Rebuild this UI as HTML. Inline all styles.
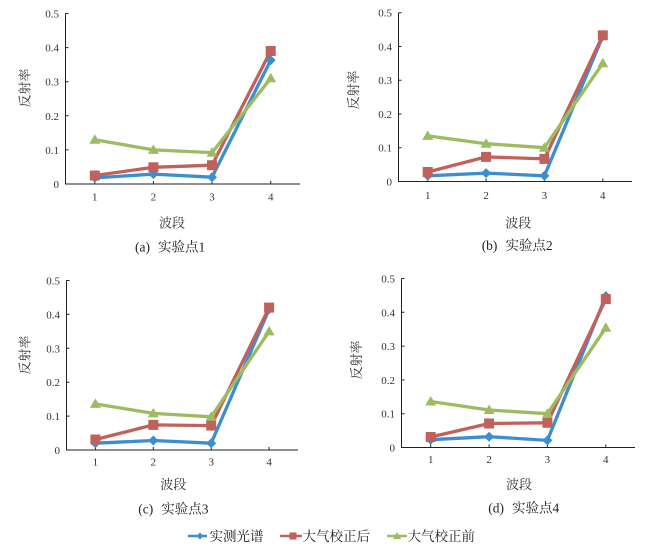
<!DOCTYPE html>
<html>
<head>
<meta charset="utf-8">
<style>
html,body{margin:0;padding:0;background:#fff;}
svg{display:block;}
.tk{font-family:"Liberation Serif","Noto Serif CJK SC",serif;font-size:11px;fill:#333;}
.lb{font-family:"Liberation Serif","Noto Serif CJK SC",serif;font-size:13px;fill:#333;}
.cap{font-family:"Liberation Serif","Noto Serif CJK SC",serif;font-size:13.5px;fill:#222;}
.ax{stroke:#222;stroke-width:1;fill:none;}
.bl{stroke:#3b8fd1;stroke-width:3.3;fill:none;stroke-linejoin:round;}
.rd{stroke:#c0615b;stroke-width:3.3;fill:none;stroke-linejoin:round;}
.gr{stroke:#9dbb61;stroke-width:3.3;fill:none;stroke-linejoin:round;}
.bm{fill:#3b8fd1;}
.rm{fill:#c0615b;}
.gm{fill:#9dbb61;}
</style>
</head>
<body>
<svg width="646" height="549" viewBox="0 0 646 549" xmlns="http://www.w3.org/2000/svg">
<defs>
<polygon id="dia" points="0,-5 5,0 0,5 -5,0"/>
<rect id="sq" x="-5" y="-5" width="10" height="10"/>
<polygon id="tri" points="0,-5.5 5.5,4 -5.5,4"/>
</defs>

<!-- Panel A -->
<g>
<path class="ax" d="M65.5,13.5 V184 H300"/>
<path class="ax" d="M65.5,13.5 h3 M65.5,47.6 h3 M65.5,81.7 h3 M65.5,115.8 h3 M65.5,149.9 h3 M94.8,184 v-3 M153.4,184 v-3 M212,184 v-3 M270.7,184 v-3"/>
<g class="tk" text-anchor="end">
<text x="59" y="17.5">0.5</text><text x="59" y="51.6">0.4</text><text x="59" y="85.7">0.3</text><text x="59" y="119.8">0.2</text><text x="59" y="153.9">0.1</text><text x="59" y="188">0</text>
</g>
<g class="tk" text-anchor="middle">
<text x="94.8" y="200.5">1</text><text x="153.4" y="200.5">2</text><text x="212" y="200.5">3</text><text x="270.7" y="200.5">4</text>
</g>
<text class="lb" text-anchor="middle" transform="translate(29.5,88) rotate(-90)">反射率</text>
<text class="lb" text-anchor="middle" x="172" y="227.7">波段</text>
<text class="cap" x="135" y="251.7">(a)<tspan dx="8">实验点1</tspan></text>
<polyline class="bl" points="94.8,177.9 153.4,174.1 212,177.2 270.7,60.2"/>
<polyline class="rd" points="94.8,175.5 153.4,167.3 212,165.2 270.7,51.0"/>
<polyline class="gr" points="94.8,139.7 153.4,149.9 212,152.6 270.7,78.3"/>
<g class="bm">
<use href="#dia" x="94.8" y="177.9"/><use href="#dia" x="153.4" y="174.1"/><use href="#dia" x="212" y="177.2"/><use href="#dia" x="270.7" y="60.2"/>
</g>
<g class="rm">
<use href="#sq" x="94.8" y="175.5"/><use href="#sq" x="153.4" y="167.3"/><use href="#sq" x="212" y="165.2"/><use href="#sq" x="270.7" y="51.0"/>
</g>
<g class="gm">
<use href="#tri" x="94.8" y="139.7"/><use href="#tri" x="153.4" y="149.9"/><use href="#tri" x="212" y="152.6"/><use href="#tri" x="270.7" y="78.3"/>
</g>
</g>

<!-- Panel B -->
<g>
<path class="ax" d="M398.5,12.7 V181.5 H632"/>
<path class="ax" d="M398.5,12.7 h3 M398.5,46.5 h3 M398.5,80.2 h3 M398.5,114 h3 M398.5,147.7 h3 M427.7,181.5 v-3 M486.1,181.5 v-3 M544.4,181.5 v-3 M602.8,181.5 v-3"/>
<g class="tk" text-anchor="end">
<text x="392" y="16.7">0.5</text><text x="392" y="50.5">0.4</text><text x="392" y="84.2">0.3</text><text x="392" y="118">0.2</text><text x="392" y="151.7">0.1</text><text x="392" y="185.5">0</text>
</g>
<g class="tk" text-anchor="middle">
<text x="427.7" y="199">1</text><text x="486.1" y="199">2</text><text x="544.4" y="199">3</text><text x="602.8" y="199">4</text>
</g>
<text class="lb" text-anchor="middle" transform="translate(357.8,90) rotate(-90)">反射率</text>
<text class="lb" text-anchor="middle" x="518.3" y="227.7">波段</text>
<text class="cap" x="481.7" y="250">(b)<tspan dx="8">实验点2</tspan></text>
<polyline class="bl" points="427.7,175.8 486.1,173.1 544.4,175.8 602.8,36.3"/>
<polyline class="rd" points="427.7,172.0 486.1,156.9 544.4,158.9 602.8,35.3"/>
<polyline class="gr" points="427.7,135.9 486.1,143.7 544.4,147.7 602.8,63.3"/>
<g class="bm">
<use href="#dia" x="427.7" y="175.8"/><use href="#dia" x="486.1" y="173.1"/><use href="#dia" x="544.4" y="175.8"/><use href="#dia" x="602.8" y="36.3"/>
</g>
<g class="rm">
<use href="#sq" x="427.7" y="172.0"/><use href="#sq" x="486.1" y="156.9"/><use href="#sq" x="544.4" y="158.9"/><use href="#sq" x="602.8" y="35.3"/>
</g>
<g class="gm">
<use href="#tri" x="427.7" y="135.9"/><use href="#tri" x="486.1" y="143.7"/><use href="#tri" x="544.4" y="147.7"/><use href="#tri" x="602.8" y="63.3"/>
</g>
</g>

<!-- Panel C -->
<g>
<path class="ax" d="M66.5,280.5 V450 H298"/>
<path class="ax" d="M66.5,280.5 h3 M66.5,314.4 h3 M66.5,348.3 h3 M66.5,382.2 h3 M66.5,416.1 h3 M95.4,450 v-3 M153.3,450 v-3 M211.2,450 v-3 M269.1,450 v-3"/>
<g class="tk" text-anchor="end">
<text x="60" y="284.5">0.5</text><text x="60" y="318.4">0.4</text><text x="60" y="352.3">0.3</text><text x="60" y="386.2">0.2</text><text x="60" y="420.1">0.1</text><text x="60" y="454">0</text>
</g>
<g class="tk" text-anchor="middle">
<text x="95.4" y="465.5">1</text><text x="153.3" y="465.5">2</text><text x="211.2" y="465.5">3</text><text x="269.1" y="465.5">4</text>
</g>
<text class="lb" text-anchor="middle" transform="translate(29.5,355) rotate(-90)">反射率</text>
<text class="lb" text-anchor="middle" x="173.3" y="489">波段</text>
<text class="cap" x="138.3" y="513.3">(c)<tspan dx="8">实验点3</tspan></text>
<polyline class="bl" points="95.4,443.2 153.3,440.5 211.2,443.2 269.1,309.3"/>
<polyline class="rd" points="95.4,439.5 153.3,424.9 211.2,425.6 269.1,307.6"/>
<polyline class="gr" points="95.4,403.9 153.3,413.4 211.2,416.8 269.1,331.4"/>
<g class="bm">
<use href="#dia" x="95.4" y="443.2"/><use href="#dia" x="153.3" y="440.5"/><use href="#dia" x="211.2" y="443.2"/><use href="#dia" x="269.1" y="309.3"/>
</g>
<g class="rm">
<use href="#sq" x="95.4" y="439.5"/><use href="#sq" x="153.3" y="424.9"/><use href="#sq" x="211.2" y="425.6"/><use href="#sq" x="269.1" y="307.6"/>
</g>
<g class="gm">
<use href="#tri" x="95.4" y="403.9"/><use href="#tri" x="153.3" y="413.4"/><use href="#tri" x="211.2" y="416.8"/><use href="#tri" x="269.1" y="331.4"/>
</g>
</g>

<!-- Panel D -->
<g>
<path class="ax" d="M401.5,278.5 V447.5 H635"/>
<path class="ax" d="M401.5,278.5 h3 M401.5,312.3 h3 M401.5,346.1 h3 M401.5,379.9 h3 M401.5,413.7 h3 M430.7,447.5 v-3 M489.1,447.5 v-3 M547.4,447.5 v-3 M605.8,447.5 v-3"/>
<g class="tk" text-anchor="end">
<text x="395" y="282.5">0.5</text><text x="395" y="316.3">0.4</text><text x="395" y="350.1">0.3</text><text x="395" y="383.9">0.2</text><text x="395" y="417.7">0.1</text><text x="395" y="451.5">0</text>
</g>
<g class="tk" text-anchor="middle">
<text x="430.7" y="463">1</text><text x="489.1" y="463">2</text><text x="547.4" y="463">3</text><text x="605.8" y="463">4</text>
</g>
<text class="lb" text-anchor="middle" transform="translate(361.2,360) rotate(-90)">反射率</text>
<text class="lb" text-anchor="middle" x="519" y="489">波段</text>
<text class="cap" x="488.3" y="512.7">(d)<tspan dx="8">实验点4</tspan></text>
<polyline class="bl" points="430.7,439.7 489.1,436.7 547.4,440.4 605.8,296.1"/>
<polyline class="rd" points="430.7,437.0 489.1,423.5 547.4,422.8 605.8,299.1"/>
<polyline class="gr" points="430.7,401.5 489.1,410.0 547.4,413.7 605.8,327.8"/>
<g class="bm">
<use href="#dia" x="430.7" y="439.7"/><use href="#dia" x="489.1" y="436.7"/><use href="#dia" x="547.4" y="440.4"/><use href="#dia" x="605.8" y="296.1"/>
</g>
<g class="rm">
<use href="#sq" x="430.7" y="437.0"/><use href="#sq" x="489.1" y="423.5"/><use href="#sq" x="547.4" y="422.8"/><use href="#sq" x="605.8" y="299.1"/>
</g>
<g class="gm">
<use href="#tri" x="430.7" y="401.5"/><use href="#tri" x="489.1" y="410.0"/><use href="#tri" x="547.4" y="413.7"/><use href="#tri" x="605.8" y="327.8"/>
</g>
</g>

<!-- Legend -->
<g>
<line x1="188" y1="536" x2="207" y2="536" stroke="#3b8fd1" stroke-width="2.5"/>
<polygon class="bm" points="200,532.5 203.5,536 200,539.5 196.5,536"/>
<text class="cap" x="209.5" y="541">实测光谱</text>
<line x1="280" y1="536" x2="302" y2="536" stroke="#c0615b" stroke-width="2.5"/>
<rect class="rm" x="289.5" y="532.5" width="7" height="7"/>
<text class="cap" x="302.5" y="541">大气校正后</text>
<line x1="387" y1="536" x2="407" y2="536" stroke="#9dbb61" stroke-width="2.5"/>
<polygon class="gm" points="397,532 401,539 393,539"/>
<text class="cap" x="407.5" y="541">大气校正前</text>
</g>

</svg>
</body>
</html>
